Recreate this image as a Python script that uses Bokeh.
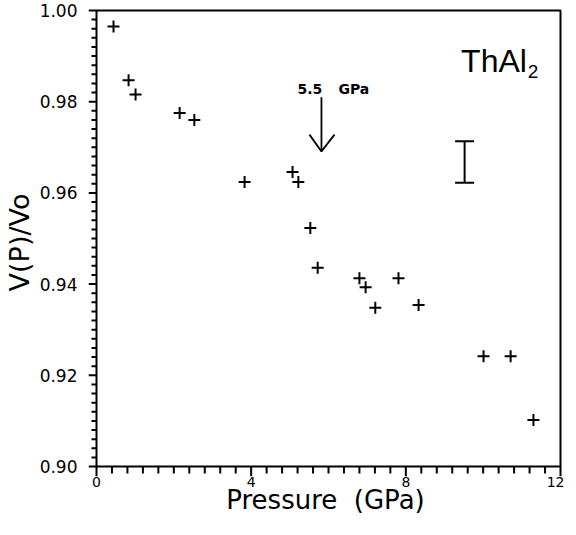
from bokeh.plotting import figure
from bokeh.models import Range1d, FixedTicker, Whisker, TeeHead, ColumnDataSource
from bokeh.core.properties import value
from bokeh.embed import file_html
from bokeh.resources import INLINE

# ---- data ----
pressure = [0.44, 0.83, 1.01, 2.15, 2.53, 3.83, 5.07, 5.22, 5.53, 5.72,
            6.80, 6.96, 7.21, 7.81, 8.33, 10.01, 10.71, 11.30]
volume = [0.9965, 0.9847, 0.9816, 0.9775, 0.9760, 0.9624, 0.9646, 0.9624, 0.9523, 0.9436,
          0.9413, 0.9393, 0.9348, 0.9413, 0.9354, 0.9242, 0.9242, 0.9102]

x_ticks = [0, 4, 8, 12]
x_tick_labels = ["0", "4", "8", "12"]
y_ticks = [0.90, 0.92, 0.94, 0.96, 0.98, 1.00]
y_tick_labels = ["0.90", "0.92", "0.94", "0.96", "0.98", "1.00"]

x_minor = [0.4, 0.8, 1.2, 1.6, 2.0, 2.4, 2.8, 3.2, 3.6,
           4.4, 4.8, 5.2, 5.6, 6.0, 6.4, 6.8, 7.2, 7.6,
           8.4, 8.8, 9.2, 9.6, 10.0, 10.4, 10.8, 11.2, 11.6]
y_minor = [round(0.90 + 0.002 * i, 3) for i in range(1, 50) if i % 10 != 0]

X_MIN, X_MAX = 0.0, 12.0
Y_MIN, Y_MAX = 0.90, 1.00

# error bar (typical uncertainty)
err_x = [9.52]
err_lo = [0.9622]
err_hi = [0.9713]

# transition arrow
arrow_x = 5.818
arrow_top = 0.9810
arrow_tip = 0.9691
head_dx_left = 0.31
head_dx_right = 0.337
head_dy = 0.00368

# ---- layout (pixels) ----
BOX_W, BOX_H = 464, 456
PAD_L, PAD_R, PAD_T, PAD_B = 8, 2, 2, 10   # room for the outward ticks
px_x = (X_MAX - X_MIN) / BOX_W
px_y = (Y_MAX - Y_MIN) / BOX_H

p = figure(frame_width=BOX_W + PAD_L + PAD_R, frame_height=BOX_H + PAD_T + PAD_B,
           min_border_left=84, min_border_right=2, min_border_top=8, min_border_bottom=43,
           x_range=Range1d(X_MIN - PAD_L * px_x, X_MAX + PAD_R * px_x),
           y_range=Range1d(Y_MIN - PAD_B * px_y, Y_MAX + PAD_T * px_y),
           output_backend="svg", toolbar_location=None,
           background_fill_color="white", border_fill_color="white")
p.grid.visible = False
p.outline_line_color = None

# axes provide the tick labels and titles; box and ticks are drawn below
p.xaxis.ticker = FixedTicker(ticks=x_ticks, minor_ticks=[])
p.yaxis.ticker = FixedTicker(ticks=y_ticks, minor_ticks=[])
p.xaxis.major_label_overrides = {t: l for t, l in zip(x_ticks, x_tick_labels)}
p.yaxis.major_label_overrides = {t: l for t, l in zip(y_ticks, y_tick_labels)}
p.axis.axis_line_color = None
p.axis.major_tick_line_color = None
p.axis.minor_tick_line_color = None
p.axis.major_tick_in = 0
p.axis.major_tick_out = 0
p.axis.minor_tick_in = 0
p.axis.minor_tick_out = 0
p.axis.major_label_text_font = "DejaVu Sans"
p.axis.major_label_text_color = "black"
p.axis.axis_label_text_font = "DejaVu Sans"
p.axis.axis_label_text_font_style = "normal"
p.axis.axis_label_text_color = "black"

p.yaxis.major_label_text_font_size = "17px"
p.yaxis.major_label_standoff = 11
p.yaxis.axis_label = "V(P)/Vo"
p.yaxis.axis_label_text_font_size = "27px"
p.yaxis.axis_label_standoff = 2

p.xaxis.major_label_text_font_size = "14px"
p.xaxis.major_label_standoff = 0
p.xaxis.axis_label = "Pressure\u00a0\u00a0(GPa)"
p.xaxis.axis_label_text_font_size = "26px"
p.xaxis.axis_label_standoff = -5

# box
p.quad(left=[X_MIN], right=[X_MAX], bottom=[Y_MIN], top=[Y_MAX],
       fill_color=None, line_color="black", line_width=2)

# ticks (outward)
p.segment(x0=[X_MIN] * len(y_ticks), y0=y_ticks, x1=[X_MIN - 8 * px_x] * len(y_ticks), y1=y_ticks,
          line_color="black", line_width=2)
p.segment(x0=[X_MIN] * len(y_minor), y0=y_minor, x1=[X_MIN - 5 * px_x] * len(y_minor), y1=y_minor,
          line_color="black", line_width=2)
p.segment(x0=x_ticks, y0=[Y_MIN] * len(x_ticks), x1=x_ticks, y1=[Y_MIN - 10 * px_y] * len(x_ticks),
          line_color="black", line_width=2)
p.segment(x0=x_minor, y0=[Y_MIN] * len(x_minor), x1=x_minor, y1=[Y_MIN - 7 * px_y] * len(x_minor),
          line_color="black", line_width=2)

# data points
p.scatter(pressure, volume, marker="cross", size=12, line_width=2, line_color="black")

# error bar
src = ColumnDataSource(dict(base=err_x, lower=err_lo, upper=err_hi))
p.add_layout(Whisker(base="base", lower="lower", upper="upper", source=src,
                     dimension="height", line_width=2, line_color="black",
                     upper_head=TeeHead(size=19, line_width=2, line_color="black"),
                     lower_head=TeeHead(size=19, line_width=2, line_color="black")))

# arrow
p.line([arrow_x, arrow_x], [arrow_top, arrow_tip], line_color="black", line_width=1.8)
p.line([arrow_x - head_dx_left, arrow_x, arrow_x + head_dx_right],
       [arrow_tip + head_dy, arrow_tip, arrow_tip + head_dy], line_color="black", line_width=1.8)

# texts
p.text(x=[5.198], y=[0.9827], text=["5.5"], text_font=value("DejaVu Sans"),
       text_font_size="14px", text_font_style="bold", text_align="left",
       text_baseline="alphabetic", text_color="black")
p.text(x=[6.258], y=[0.9827], text=["GPa"], text_font=value("DejaVu Sans"),
       text_font_size="14px", text_font_style="bold", text_align="left",
       text_baseline="alphabetic", text_color="black")
p.text(x=[10.28], y=[0.9890], text=["ThAl"], text_font=value("Liberation Sans"),
       text_font_size="32px", text_align="center", text_baseline="alphabetic",
       text_color="black")
p.text(x=[11.15], y=[0.9866], text=["2"], text_font=value("Liberation Sans"),
       text_font_size="19px", text_align="left", text_baseline="alphabetic",
       text_color="black")

open("out.html", "w").write(file_html(p, INLINE))
